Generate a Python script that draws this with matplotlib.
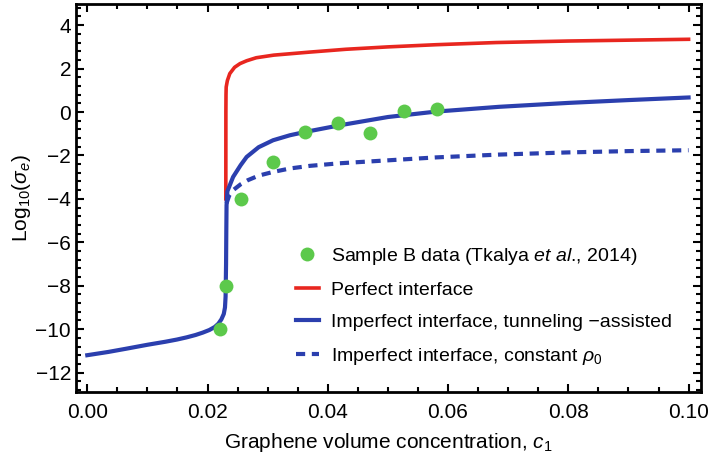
import numpy as np
from matplotlib import pyplot as plt
from matplotlib.ticker import MultipleLocator

# Sample B data
c_data = [0.0220, 0.0231, 0.0256, 0.0309, 0.0362, 0.0417, 0.0471, 0.0527, 0.0582]
s_data = [-10.0, -8.0, -4.0, -2.28, -0.93, -0.50, -0.95, 0.05, 0.12]

# perfect interface
c_perf = [0.02304, 0.02305, 0.02307, 0.0231, 0.0233, 0.0237, 0.0245, 0.0254, 0.0265,
          0.0281, 0.031, 0.037, 0.043, 0.050, 0.058, 0.068, 0.080, 0.090, 0.100]
s_perf = [-4.0, 0.0, 0.8, 1.15, 1.45, 1.77, 2.06, 2.23, 2.36,
          2.50, 2.62, 2.76, 2.89, 3.00, 3.10, 3.20, 3.27, 3.31, 3.35]

# imperfect interface, tunneling-assisted
c_tun = [0.0, 0.0035, 0.0065, 0.010, 0.0130, 0.0149, 0.0165, 0.0180, 0.0192, 0.0203,
         0.0212, 0.0218, 0.0223, 0.0227, 0.0229, 0.0230, 0.02308, 0.02312, 0.02316,
         0.0233, 0.02425, 0.0255, 0.0265, 0.0285, 0.0309, 0.0337, 0.0362, 0.042,
         0.050, 0.058, 0.0685, 0.080, 0.090, 0.100]
s_tun = [-11.2, -11.05, -10.9, -10.72, -10.58, -10.48, -10.38, -10.27, -10.16, -10.04,
         -9.9, -9.75, -9.55, -9.3, -9.0, -8.5, -7.0, -5.5, -4.3,
         -3.65, -2.99, -2.45, -2.07, -1.62, -1.3, -1.07, -0.92, -0.61,
         -0.23, 0.02, 0.24, 0.42, 0.55, 0.67]

# imperfect interface, constant rho_0
c_const = [0.02316, 0.0236, 0.02425, 0.0255, 0.0267, 0.0285, 0.0309, 0.0337, 0.037,
           0.042, 0.0503, 0.058, 0.0685, 0.080, 0.090, 0.100]
s_const = [-4.2, -3.85, -3.6, -3.33, -3.14, -2.93, -2.76, -2.6, -2.48,
           -2.36, -2.22, -2.09, -1.96, -1.86, -1.8, -1.76]

plt.rcParams['font.family'] = ['Liberation Sans', 'DejaVu Sans']
plt.rcParams['mathtext.fontset'] = 'custom'
plt.rcParams['mathtext.it'] = 'Liberation Sans:italic'
plt.rcParams['mathtext.rm'] = 'Liberation Sans'

red = '#e8261f'
blue = '#2b3fae'
green = '#5cc94b'

fig = plt.figure(figsize=(7.09, 4.57), dpi=100)
ax = fig.add_axes([0.107, 0.142, 0.882, 0.849])

ax.plot(c_data, s_data, 'o', color=green, ms=10, mec='none',
        label='Sample B data (Tkalya $\\it{et\\ al}$., 2014)', zorder=5)
ax.plot(c_perf, s_perf, '-', color=red, lw=2.6, label='Perfect interface')
ax.plot(c_tun, s_tun, '-', color=blue, lw=3, label='Imperfect interface, tunneling \u2212assisted')
ax.plot(c_const, s_const, '--', color=blue, lw=3, dashes=(2.2, 1.6),
        label='Imperfect interface, constant $\\rho_0$')

ax.set_xlim(-0.0019, 0.1021)
ax.set_ylim(-12.9, 4.97)
ax.xaxis.set_major_locator(MultipleLocator(0.02))
ax.xaxis.set_minor_locator(MultipleLocator(0.005))
ax.yaxis.set_major_locator(MultipleLocator(2))
ax.yaxis.set_minor_locator(MultipleLocator(0.4))
ax.xaxis.set_major_formatter(plt.FuncFormatter(lambda v, p: '%.2f' % v))
ax.yaxis.set_major_formatter(plt.FuncFormatter(lambda v, p: ('%d' % round(v)).replace('-', '\u2212')))
ax.tick_params(which='both', direction='in', top=True, right=True, width=1.5, labelsize=15)
ax.tick_params(which='major', length=6)
ax.tick_params(which='minor', length=3.5)
ax.tick_params(axis='x', pad=8)
for s in ax.spines.values():
    s.set_linewidth(2)

ax.set_xlabel('Graphene volume concentration, $\\it{c}_1$', fontsize=15, labelpad=6)
ax.set_ylabel('Log$_{10}$($\\sigma_e$)', fontsize=15, labelpad=2)

ax.legend(loc='lower right', bbox_to_anchor=(0.965, 0.045), frameon=False, fontsize=14,
          handlelength=1.2, handletextpad=0.6, labelspacing=0.75, borderaxespad=0)

fig.savefig('out.png', dpi=100)
